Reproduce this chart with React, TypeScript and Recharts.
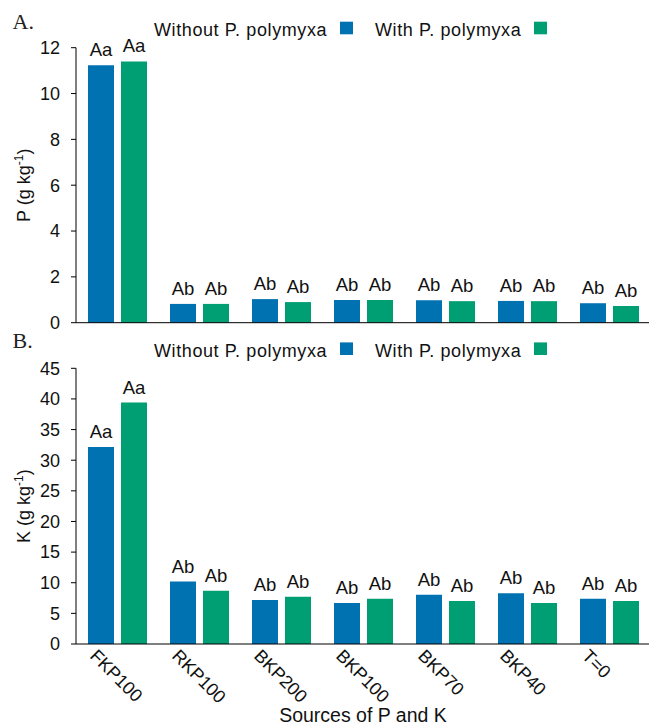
import React from 'react';
import { BarChart, Bar, XAxis, YAxis, LabelList, Legend } from 'recharts';

const categories = ['FKP100', 'RKP100', 'BKP200', 'BKP100', 'BKP70', 'BKP40', 'T=0'];
const pWithout = [11.23, 0.82, 1.03, 0.99, 0.98, 0.95, 0.85];
const pWith = [11.4, 0.82, 0.9, 0.99, 0.94, 0.94, 0.73];
const pLettersWithout = ['Aa', 'Ab', 'Ab', 'Ab', 'Ab', 'Ab', 'Ab'];
const pLettersWith = ['Aa', 'Ab', 'Ab', 'Ab', 'Ab', 'Ab', 'Ab'];
const kWithout = [32.15, 10.2, 7.2, 6.7, 8.05, 8.3, 7.4];
const kWith = [39.4, 8.7, 7.7, 7.4, 7.0, 6.7, 7.0];
const kLettersWithout = ['Aa', 'Ab', 'Ab', 'Ab', 'Ab', 'Ab', 'Ab'];
const kLettersWith = ['Aa', 'Ab', 'Ab', 'Ab', 'Ab', 'Ab', 'Ab'];
const pTicks = [0, 2, 4, 6, 8, 10, 12];
const kTicks = [0, 5, 10, 15, 20, 25, 30, 35, 40, 45];
const seriesNames = ['Without P. polymyxa', 'With P. polymyxa'];

const BLUE = '#0072B2';
const GREEN = '#009E73';
const FONT = '"Liberation Sans", Arial, sans-serif';
const SERIF = '"Liberation Serif", "Times New Roman", serif';

const pData = categories.map((c, i) => ({
  name: c,
  without: pWithout[i],
  with: pWith[i],
  lw: pLettersWithout[i],
  lg: pLettersWith[i],
}));
const kData = categories.map((c, i) => ({
  name: c,
  without: kWithout[i],
  with: kWith[i],
  lw: kLettersWithout[i],
  lg: kLettersWith[i],
}));

const makeLegend = (panel: string, baseline: number, panelBaseline: number) => () => (
  <svg width={650} height={40} style={{ overflow: 'visible', display: 'block' }}>
    <text x={12.5} y={panelBaseline} fontFamily={SERIF} fontSize={22} fill="#222">
      {panel}
    </text>
    <text x={154} y={baseline} fontFamily={FONT} fontSize={18} letterSpacing={0.6} fill="#111">
      {seriesNames[0]}
    </text>
    <rect x={340} y={baseline - 14.3} width={13} height={12.6} fill={BLUE} />
    <text x={375} y={baseline} fontFamily={FONT} fontSize={18} letterSpacing={0.6} fill="#111">
      {seriesNames[1]}
    </text>
    <rect x={534} y={baseline - 14.3} width={13} height={12.6} fill={GREEN} />
  </svg>
);

const makeYLabel = (main: string) => (props: any) => {
  const vb = props.viewBox || {};
  const cy = (vb.y ?? 0) + (vb.height ?? 0) / 2;
  const x = 30;
  return (
    <text
      x={x}
      y={cy}
      transform={`rotate(-90 ${x} ${cy})`}
      textAnchor="middle"
      fontFamily={FONT}
      fontSize={18}
      fill="#111"
    >
      {main} (g kg
      <tspan dy={-7} fontSize={12}>
        -1
      </tspan>
      <tspan dy={7}>)</tspan>
    </text>
  );
};

const XTick = (props: any) => {
  const { x, y, payload } = props;
  const ax = x - 28;
  const ay = y + 13;
  return (
    <text
      x={ax}
      y={ay}
      transform={`rotate(45 ${ax} ${ay})`}
      textAnchor="start"
      fontFamily={FONT}
      fontSize={18}
      fill="#111"
    >
      {payload.value}
    </text>
  );
};

const tickStyle = { fontSize: 18, fill: '#111', fontFamily: FONT };
const labelStyle = { fontSize: 18.5, fill: '#111', fontFamily: FONT };

export default function App() {
  return (
    <div style={{ position: 'absolute', left: 0, top: 0, width: 649, height: 726, overflow: 'hidden', background: '#fff' }}>
      <div style={{ position: 'absolute', left: 0, top: 0 }}>
        <BarChart
          width={650}
          height={336}
          data={pData}
          margin={{ top: 47.7, right: 0, bottom: 8.3, left: 0 }}
          barSize={26}
          barGap={7}
        >
          <XAxis dataKey="name" tick={false} tickLine={false} height={5} axisLine={{ stroke: '#000' }} />
          <YAxis
            width={76}
            domain={[0, 12]}
            ticks={pTicks}
            interval={0}
            tickSize={5}
            tickMargin={11}
            tick={tickStyle}
            axisLine={{ stroke: '#000' }}
            tickLine={{ stroke: '#000' }}
            label={makeYLabel('P')}
          />
          <Legend
            layout="horizontal"
            verticalAlign="middle"
            align="center"
            wrapperStyle={{ position: 'absolute', top: 0, left: 0, width: 650, height: 40 }}
            content={makeLegend('A.', 36, 29)}
          />
          <Bar dataKey="without" name={seriesNames[0]} fill={BLUE} isAnimationActive={false}>
            <LabelList dataKey="lw" position="top" offset={9} style={labelStyle} />
          </Bar>
          <Bar dataKey="with" name={seriesNames[1]} fill={GREEN} isAnimationActive={false}>
            <LabelList dataKey="lg" position="top" offset={9} style={labelStyle} />
          </Bar>
        </BarChart>
      </div>
      <div style={{ position: 'absolute', left: 0, top: 336 }}>
        <BarChart
          width={650}
          height={390}
          data={kData}
          margin={{ top: 32.3, right: 0, bottom: 0, left: 0 }}
          barSize={26}
          barGap={7}
        >
          <XAxis
            dataKey="name"
            interval={0}
            height={82}
            tickLine={false}
            tickSize={0}
            tickMargin={0}
            tick={<XTick />}
            axisLine={{ stroke: '#000' }}
            label={{ value: 'Sources of P and K', position: 'insideBottom', offset: 4, fontSize: 19.5, fill: '#111', fontFamily: FONT }}
          />
          <YAxis
            width={76}
            domain={[0, 45]}
            ticks={kTicks}
            interval={0}
            tickSize={5}
            tickMargin={11}
            tick={tickStyle}
            axisLine={{ stroke: '#000' }}
            tickLine={{ stroke: '#000' }}
            label={makeYLabel('K')}
          />
          <Legend
            layout="horizontal"
            verticalAlign="middle"
            align="center"
            wrapperStyle={{ position: 'absolute', top: 0, left: 0, width: 650, height: 40 }}
            content={makeLegend('B.', 20.7, 12)}
          />
          <Bar dataKey="without" name={seriesNames[0]} fill={BLUE} isAnimationActive={false}>
            <LabelList dataKey="lw" position="top" offset={9} style={labelStyle} />
          </Bar>
          <Bar dataKey="with" name={seriesNames[1]} fill={GREEN} isAnimationActive={false}>
            <LabelList dataKey="lg" position="top" offset={9} style={labelStyle} />
          </Bar>
        </BarChart>
      </div>
    </div>
  );
}
